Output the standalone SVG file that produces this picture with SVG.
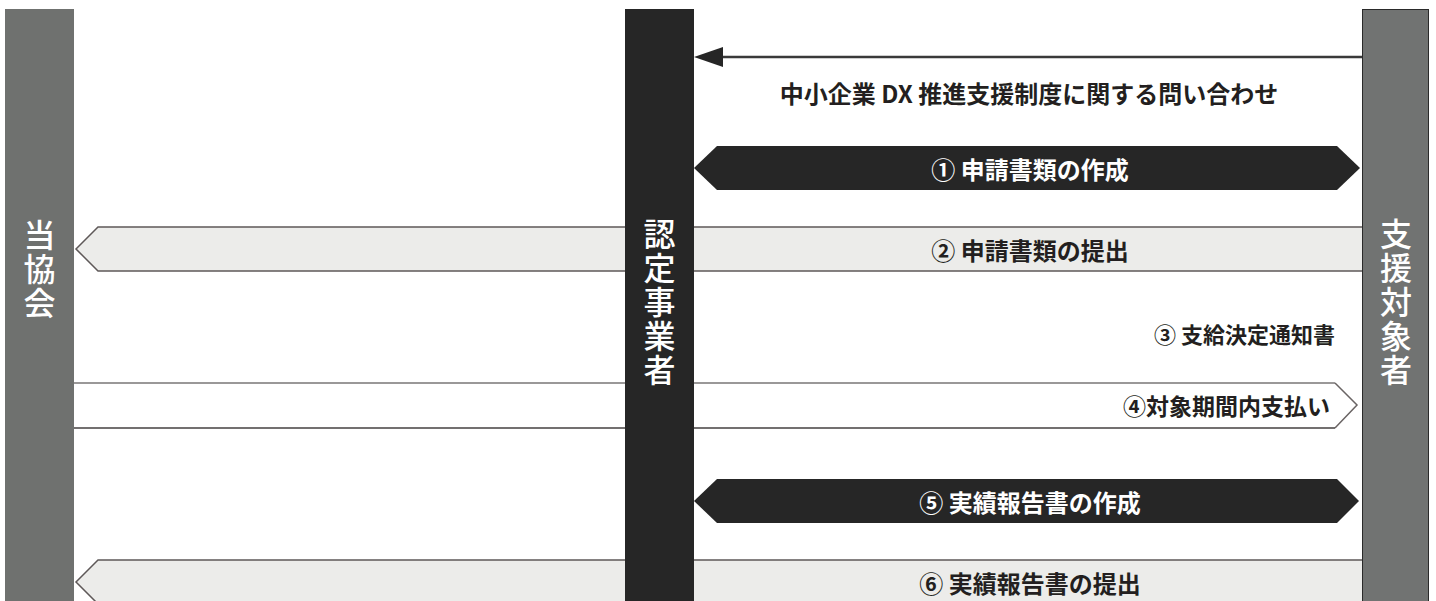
<svg xmlns="http://www.w3.org/2000/svg" width="1436" height="601" viewBox="0 0 1436 601">
<defs>
<style>
text{font-family:"Noto Sans CJK JP","Noto Sans",sans-serif;font-weight:700;}
.lbl{font-size:24px;fill:#231f20;dominant-baseline:central;}
.lblw{font-size:24px;fill:#ffffff;dominant-baseline:central;}
.vt{font-size:32px;font-weight:500;fill:#ffffff;writing-mode:vertical-rl;letter-spacing:2px;}
.dark{fill:#262626;}
.light{fill:#ececea;stroke:#5e5858;stroke-width:1.5;}
</style>
</defs>
<rect width="1436" height="601" fill="#ffffff"/>
<g id="connectors">
<g id="c0">
<line x1="1362" y1="57" x2="723" y2="57" stroke="#3a3a3a" stroke-width="2.5"/>
<path d="M694,57 L723,47 L723,67 Z" fill="#262626"/>
<text class="lbl" x="1029" y="92" text-anchor="middle">中小企業 DX 推進支援制度に関する問い合わせ</text>
</g>
<g id="c1">
<path class="dark" d="M694,168 L717,146 L1337,146 L1360,168 L1337,190 L717,190 Z"/>
<text class="lblw" x="1030" y="168" text-anchor="middle">① 申請書類の作成</text>
</g>
<g id="c2">
<path class="light" d="M1362,227 L98,227 L76,249 L98,271 L1362,271"/>
<text class="lbl" x="1030" y="249" text-anchor="middle">② 申請書類の提出</text>
</g>
<g id="c3">
<text class="lbl" x="1335" y="333" text-anchor="end" style="font-size:22px">③ 支給決定通知書</text>
</g>
<g id="c4">
<path d="M74,383 L1335,383 L1357,405 L1335,428 L74,428" fill="#ffffff" stroke="none"/>
<line x1="74" y1="383" x2="1335" y2="383" stroke="#9a9898" stroke-width="2"/>
<path d="M1335,383 L1357,405 L1335,428" fill="none" stroke="#6a6464" stroke-width="1.5"/>
<line x1="74" y1="428" x2="1335" y2="428" stroke="#444040" stroke-width="1.5"/>
<text class="lbl" x="1330" y="405" text-anchor="end" style="font-size:23px">④対象期間内支払い</text>
</g>
<g id="c5">
<path class="dark" d="M694,501 L717,479 L1337,479 L1359,501 L1337,523 L717,523 Z"/>
<text class="lblw" x="1030" y="501" text-anchor="middle">⑤ 実績報告書の作成</text>
</g>
<g id="c6">
<path class="light" d="M1362,560 L98,560 L76,582 L98,604 L1362,604" stroke="#3d3535"/>
<text class="lbl" x="1030" y="582" text-anchor="middle">⑥ 実績報告書の提出</text>
</g>
</g>
<g id="node-kyokai">
<rect x="5" y="9" width="69" height="600" fill="#6f716f"/>
<text class="vt" x="39.5" y="219">当協会</text>
</g>
<g id="node-nintei">
<rect x="625" y="9" width="69" height="600" fill="#262626"/>
<text class="vt" x="659.5" y="218">認定事業者</text>
</g>
<g id="node-shien">
<rect x="1362.5" y="9.5" width="66" height="600" fill="#717372" stroke="#2a2a2a" stroke-width="1"/>
<text class="vt" x="1396" y="218">支援対象者</text>
</g>
</svg>
